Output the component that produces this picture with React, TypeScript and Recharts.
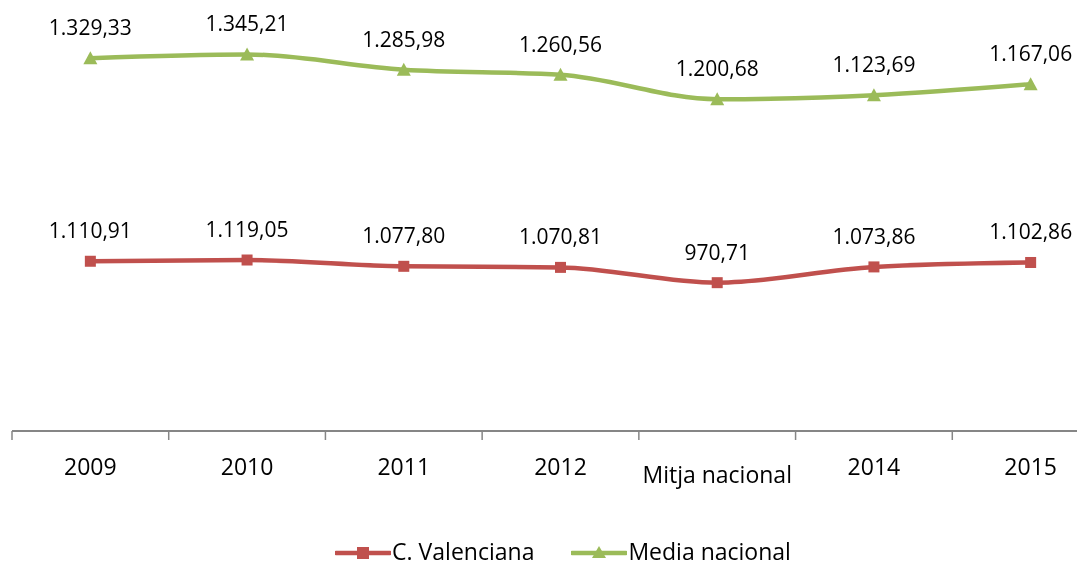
import React from 'react';
import { LineChart, Line, XAxis, YAxis, LabelList, Legend } from 'recharts';

const categories = ['2009', '2010', '2011', '2012', 'Mitja nacional', '2014', '2015'];
const valenciana = [1110.91, 1119.05, 1077.8, 1070.81, 970.71, 1073.86, 1102.86];
const mediaNacional = [1329.33, 1345.21, 1285.98, 1260.56, 1200.68, 1123.69, 1167.06];
const yDomain = [0, 2500];

const RED = '#C0504D';
const GREEN = '#9BBB59';
const AXIS = '#868686';
const FONT = '"Open Sans", sans-serif';

const W = 1110;
const H = 558;
const MARGIN = { top: 41, right: 9, left: 4, bottom: 0 };
const BAND = (W - MARGIN.left - MARGIN.right) / categories.length;

// stacked line chart: the second series sits on top of the first
const data = categories.map((c, i) => ({
  cat: c,
  valenciana: valenciana[i],
  media: mediaNacional[i],
  mediaTop: valenciana[i] + mediaNacional[i],
}));

function fmt(v: number): string {
  const [int, dec] = v.toFixed(2).split('.');
  return int.replace(/\B(?=(\d{3})+(?!\d))/g, '.') + ',' + dec;
}

const Tick = (props: any) => {
  const { x, y, payload, index } = props;
  const special = index === 4;
  return (
    <g>
      <line x1={x - BAND / 2} x2={x - BAND / 2} y1={y} y2={y + 9} stroke={AXIS} strokeWidth={1.5} />
      <text
        x={x}
        y={y + (special ? 52 : 44)}
        textAnchor="middle"
        fontFamily={FONT}
        fontSize={23}
        fill="#000"
      >
        {payload.value}
      </text>
    </g>
  );
};

const SquareDot = (props: any) => {
  const { cx, cy } = props;
  if (cx == null || cy == null) return null;
  return <rect x={cx - 5.5} y={cy - 5.5} width={11} height={11} fill={RED} />;
};

const TriangleDot = (props: any) => {
  const { cx, cy } = props;
  if (cx == null || cy == null) return null;
  return <polygon points={`${cx},${cy - 7} ${cx + 7},${cy + 6} ${cx - 7},${cy + 6}`} fill={GREEN} />;
};

const makeLabel = (values: number[]) => (props: any) => {
  const { x, y, index } = props;
  return (
    <text x={x} y={y - 23} textAnchor="middle" fontFamily={FONT} fontSize={21} fill="#000">
      {fmt(values[index])}
    </text>
  );
};

const LegendContent = (props: any) => {
  const payload = props.payload || [];
  return (
    <div
      style={{
        display: 'flex',
        justifyContent: 'center',
        alignItems: 'flex-start',
        fontFamily: FONT,
        fontSize: 23,
        lineHeight: '31px',
        height: 31,
        color: '#000',
      }}
    >
      {payload.map((p: any, i: number) => {
        const isRed = p.dataKey === 'valenciana';
        const color = isRed ? RED : GREEN;
        return (
          <div key={i} style={{ display: 'flex', alignItems: 'flex-start', marginLeft: i > 0 ? 37 : 0 }}>
            <svg width={56} height={31} style={{ display: 'block' }}>
              <line x1={1} x2={55} y1={17} y2={17} stroke={color} strokeWidth={4.5} strokeLinecap="round" />
              {isRed ? (
                <rect x={22} y={11} width={12} height={12} fill={color} />
              ) : (
                <polygon points="28,10 35,22 21,22" fill={color} />
              )}
            </svg>
            <span style={{ marginLeft: 1 }}>{p.value}</span>
          </div>
        );
      })}
    </div>
  );
};

export default function App() {
  return (
    <div style={{ position: 'fixed', left: 8, top: 8, width: 1069, height: 558, overflow: 'hidden' }}>
      <LineChart width={W} height={H} data={data} margin={MARGIN}>
        <XAxis
          dataKey="cat"
          scale="band"
          interval={0}
          height={104}
          axisLine={{ stroke: AXIS, strokeWidth: 2 }}
          tickLine={false}
          tickSize={0}
          tickMargin={0}
          tick={<Tick />}
        />
        <YAxis hide domain={yDomain} />
        <Line
          type="monotone"
          dataKey="valenciana"
          name="C. Valenciana"
          stroke={RED}
          strokeWidth={4.5}
          dot={<SquareDot />}
          activeDot={false}
          isAnimationActive={false}
        >
          <LabelList dataKey="valenciana" content={makeLabel(valenciana)} />
        </Line>
        <Line
          type="monotone"
          dataKey="mediaTop"
          name="Media nacional"
          stroke={GREEN}
          strokeWidth={4.5}
          dot={<TriangleDot />}
          activeDot={false}
          isAnimationActive={false}
        >
          <LabelList dataKey="media" content={makeLabel(mediaNacional)} />
        </Line>
        <Legend
          verticalAlign="bottom"
          content={<LegendContent />}
          wrapperStyle={{ position: 'absolute', top: 528, left: 0, width: W, height: 31 }}
        />
      </LineChart>
    </div>
  );
}
